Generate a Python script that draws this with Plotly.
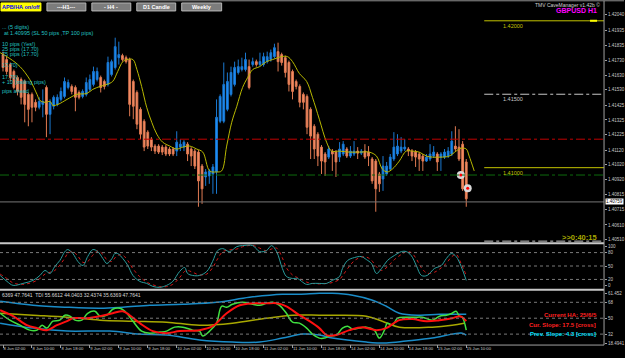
import plotly.graph_objects as go

W, H = 625, 358


def px(x):
    return x / W


def py(y):
    return 1 - y / H


# ---------------- data ----------------
bar_index = list(range(129))
ha_open = [
    1.41770, 1.41736, 1.41702, 1.41655, 1.41614, 1.41600, 1.41587, 1.41499, 1.41499, 1.41445,
    1.41411, 1.41431, 1.41546, 1.41363, 1.41418, 1.41431, 1.41465, 1.41485, 1.41546, 1.41553,
    1.41546, 1.41512, 1.41485, 1.41499, 1.41533, 1.41567, 1.41600, 1.41614, 1.41587, 1.41567,
    1.41634, 1.41682, 1.41749, 1.41763, 1.41749, 1.41736, 1.41587, 1.41512, 1.41397, 1.41316,
    1.41242, 1.41194, 1.41147, 1.41147, 1.41140, 1.41140, 1.41127, 1.41127, 1.41113, 1.41140,
    1.41140, 1.41160, 1.41127, 1.41113, 1.41106, 1.41011, 1.40937, 1.40944, 1.40957, 1.40971,
    1.41316, 1.41316, 1.41397, 1.41499, 1.41567, 1.41648, 1.41668, 1.41668, 1.41688, 1.41702,
    1.41722, 1.41702, 1.41702, 1.41722, 1.41736, 1.41756, 1.41790, 1.41770, 1.41749, 1.41716,
    1.41655, 1.41587, 1.41553, 1.41499, 1.41485, 1.41397, 1.41282, 1.41228, 1.41140, 1.41093,
    1.41072, 1.41113, 1.41106, 1.41072, 1.41093, 1.41127, 1.41079, 1.41093, 1.41113, 1.41099,
    1.41113, 1.41106, 1.41059, 1.41045, 1.40957, 1.40923, 1.40957, 1.40991, 1.41059, 1.41093,
    1.41113, 1.41127, 1.41127, 1.41113, 1.41106, 1.41093, 1.41079, 1.41045, 1.41059, 1.41079,
    1.41093, 1.41072, 1.41072, 1.41079, 1.41093, 1.41147, 1.41140, 1.41160, 1.41039]
ha_close = [
    1.41682, 1.41655, 1.41614, 1.41546, 1.41519, 1.41479, 1.41431, 1.41397, 1.41411, 1.41411,
    1.41451, 1.41451, 1.41363, 1.41445, 1.41479, 1.41479, 1.41519, 1.41587, 1.41580, 1.41519,
    1.41479, 1.41479, 1.41519, 1.41580, 1.41600, 1.41655, 1.41655, 1.41546, 1.41553, 1.41716,
    1.41722, 1.41824, 1.41770, 1.41736, 1.41722, 1.41431, 1.41418, 1.41296, 1.41228, 1.41140,
    1.41147, 1.41140, 1.41113, 1.41106, 1.41106, 1.41093, 1.41093, 1.41093, 1.41174, 1.41160,
    1.41174, 1.41093, 1.41079, 1.41011, 1.40910, 1.40856, 1.40971, 1.40978, 1.41005, 1.41343,
    1.41485, 1.41567, 1.41587, 1.41648, 1.41682, 1.41688, 1.41688, 1.41736, 1.41546, 1.41722,
    1.41702, 1.41722, 1.41756, 1.41756, 1.41783, 1.41817, 1.41722, 1.41716, 1.41648, 1.41567,
    1.41519, 1.41553, 1.41445, 1.41445, 1.41275, 1.41215, 1.41127, 1.41079, 1.41045, 1.41039,
    1.41127, 1.41093, 1.41039, 1.41127, 1.41160, 1.41079, 1.41113, 1.41113, 1.41099, 1.41113,
    1.41072, 1.41079, 1.40910, 1.40856, 1.40890, 1.41011, 1.41011, 1.41072, 1.41140, 1.41147,
    1.41140, 1.41140, 1.41113, 1.41079, 1.41072, 1.41059, 1.41045, 1.41072, 1.41093, 1.41106,
    1.41039, 1.41093, 1.41106, 1.41113, 1.41181, 1.41127, 1.41059, 1.40856, 1.40788]
ha_high = [
    1.41790, 1.41756, 1.41716, 1.41668, 1.41627, 1.41614, 1.41600, 1.41512, 1.41512, 1.41465,
    1.41479, 1.41533, 1.41560, 1.41465, 1.41492, 1.41499, 1.41546, 1.41614, 1.41600, 1.41567,
    1.41560, 1.41526, 1.41533, 1.41614, 1.41634, 1.41688, 1.41682, 1.41627, 1.41600, 1.41756,
    1.41736, 1.41885, 1.41858, 1.41776, 1.41763, 1.41749, 1.41600, 1.41526, 1.41411, 1.41330,
    1.41255, 1.41208, 1.41160, 1.41160, 1.41154, 1.41154, 1.41140, 1.41140, 1.41248, 1.41194,
    1.41187, 1.41174, 1.41140, 1.41127, 1.41120, 1.41025, 1.40991, 1.40991, 1.41025, 1.41465,
    1.41499, 1.41716, 1.41648, 1.41688, 1.41722, 1.41736, 1.41749, 1.41783, 1.41736, 1.41749,
    1.41736, 1.41783, 1.41783, 1.41790, 1.41804, 1.41844, 1.41851, 1.41783, 1.41763, 1.41729,
    1.41668, 1.41600, 1.41567, 1.41512, 1.41499, 1.41411, 1.41296, 1.41242, 1.41154, 1.41106,
    1.41147, 1.41127, 1.41120, 1.41174, 1.41181, 1.41140, 1.41147, 1.41181, 1.41140, 1.41127,
    1.41160, 1.41147, 1.41072, 1.41059, 1.40971, 1.41079, 1.41039, 1.41093, 1.41242, 1.41228,
    1.41208, 1.41194, 1.41140, 1.41127, 1.41120, 1.41106, 1.41093, 1.41093, 1.41160, 1.41147,
    1.41106, 1.41106, 1.41127, 1.41140, 1.41248, 1.41282, 1.41262, 1.41181, 1.41059]
ha_low = [
    1.41655, 1.41634, 1.41587, 1.41533, 1.41492, 1.41431, 1.41309, 1.41282, 1.41309, 1.41384,
    1.41397, 1.41343, 1.41208, 1.41228, 1.41397, 1.41418, 1.41451, 1.41472, 1.41533, 1.41499,
    1.41384, 1.41465, 1.41472, 1.41485, 1.41519, 1.41553, 1.41587, 1.41512, 1.41533, 1.41553,
    1.41621, 1.41668, 1.41702, 1.41722, 1.41709, 1.41350, 1.41330, 1.41262, 1.41194, 1.41113,
    1.41127, 1.41113, 1.41093, 1.41093, 1.41086, 1.41079, 1.41079, 1.41079, 1.41079, 1.41113,
    1.41113, 1.41045, 1.41011, 1.40991, 1.40734, 1.40754, 1.40876, 1.40890, 1.40822, 1.40822,
    1.41303, 1.41303, 1.41384, 1.41485, 1.41553, 1.41634, 1.41655, 1.41655, 1.41533, 1.41688,
    1.41688, 1.41688, 1.41688, 1.41709, 1.41722, 1.41743, 1.41655, 1.41695, 1.41614, 1.41519,
    1.41465, 1.41533, 1.41411, 1.41397, 1.41228, 1.41059, 1.41059, 1.41011, 1.40957, 1.40944,
    1.41059, 1.40978, 1.40937, 1.41039, 1.41079, 1.41066, 1.41066, 1.41079, 1.41059, 1.41086,
    1.41059, 1.41011, 1.40890, 1.40700, 1.40835, 1.40842, 1.40944, 1.40978, 1.41045, 1.41079,
    1.41099, 1.41113, 1.41079, 1.41045, 1.41005, 1.40978, 1.40978, 1.41039, 1.41045, 1.41066,
    1.40978, 1.40978, 1.41059, 1.41066, 1.41079, 1.41113, 1.41045, 1.40842, 1.40734]

ma_x = [-0.8, 1.9, 4.7, 7.4, 9.4, 10.2, 11.6, 13.0, 13.8, 15.2,
        17.7, 20.4, 23.2, 24.8, 26.8, 28.7, 30.3, 31.7, 33.1, 34.2,
        35.9, 37.0, 38.3, 39.7, 41.1, 42.5, 44.1, 46.1, 48.0, 49.7,
        51.6, 53.5, 55.2, 57.1, 59.0, 60.4, 61.8, 63.2, 64.6, 66.2,
        67.6, 69.0, 70.9, 72.8, 74.5, 77.0, 78.6, 80.0, 81.9, 83.9,
        85.5, 87.4, 89.4, 90.8, 93.0, 95.7, 98.5, 101.2, 103.2, 104.8,
        106.2, 107.6, 109.5, 111.4, 113.1, 115.0, 117.0, 118.6, 121.4, 123.3,
        125.2, 126.6, 128.0, 128.8, 130.2]
ma_val = [1.41783, 1.41743, 1.41688, 1.41600, 1.41499, 1.41458, 1.41445, 1.41451, 1.41424, 1.41431,
          1.41465, 1.41499, 1.41506, 1.41533, 1.41553, 1.41567, 1.41587, 1.41655, 1.41722, 1.41736,
          1.41736, 1.41668, 1.41553, 1.41411, 1.41309, 1.41228, 1.41174, 1.41147, 1.41127, 1.41140,
          1.41147, 1.41127, 1.41106, 1.40978, 1.40971, 1.40978, 1.41147, 1.41309, 1.41418, 1.41546,
          1.41614, 1.41668, 1.41688, 1.41722, 1.41736, 1.41756, 1.41756, 1.41722, 1.41641, 1.41587,
          1.41479, 1.41330, 1.41174, 1.41113, 1.41113, 1.41106, 1.41106, 1.41106, 1.41079, 1.40991,
          1.40971, 1.40991, 1.41045, 1.41113, 1.41113, 1.41106, 1.41079, 1.41072, 1.41072, 1.41079,
          1.41113, 1.41133, 1.41127, 1.41079, 1.40978]

stoch_x = [-0.8, 1.1, 2.8, 5.5, 8.3, 10.2, 11.6, 13.0, 14.3, 15.7,
           17.1, 17.9, 19.3, 20.7, 22.1, 23.4, 24.8, 26.2, 27.6, 28.7,
           30.1, 30.9, 31.7, 33.1, 34.5, 35.9, 37.8, 39.7, 41.4, 43.3,
           45.2, 46.9, 48.8, 50.2, 51.0, 52.4, 54.3, 56.3, 57.9, 59.3,
           60.7, 62.6, 64.6, 66.2, 69.0, 70.9, 72.8, 74.2, 75.6, 77.2,
           78.3, 80.0, 81.4, 82.5, 83.9, 85.5, 87.4, 89.4, 91.0, 93.0,
           93.8, 95.2, 97.1, 99.0, 100.4, 101.8, 103.2, 104.6, 106.2, 108.1,
           110.1, 111.4, 112.8, 114.2, 115.6, 117.2, 119.2, 121.1, 122.5, 123.9,
           125.2, 126.6, 128.0]
stoch_main = [28.9, 15.6, 6.7, 11.1, 17.8, 28.9, 40, 33.3, 48.9, 62.2,
              82.2, 86.7, 77.8, 60, 51.1, 71.1, 86.7, 82.2, 66.7, 55.6,
              66.7, 77.8, 77.8, 66.7, 51.1, 28.9, 15.6, 11.1, 4.4, 2.2,
              6.7, 15.6, 37.8, 46.7, 33.3, 28.9, 28.9, 37.8, 60, 84.4,
              88.9, 82.2, 93.3, 95.6, 95.6, 82.2, 84.4, 95.6, 82.2, 44.4,
              26.7, 22.2, 22.2, 15.6, 8.9, 11.1, 11.1, 11.1, 17.8, 26.7,
              44.4, 62.2, 68.9, 71.1, 64.4, 55.6, 33.3, 44.4, 62.2, 73.3,
              82.2, 82.2, 73.3, 51.1, 28.9, 28.9, 44.4, 51.1, 66.7, 77.8,
              71.1, 48.9, 17.8]
stoch_signal = [32, 22, 12, 9, 14, 22, 32, 36, 40, 52,
                68, 78, 82, 72, 58, 60, 74, 84, 76, 64,
                60, 68, 74, 74, 62, 44, 26, 14, 8, 4,
                4, 9, 24, 38, 40, 36, 30, 32, 46, 66,
                82, 86, 88, 93, 96, 90, 84, 88, 90, 68,
                46, 30, 24, 20, 14, 11, 10, 11, 13, 20,
                28, 44, 62, 70, 70, 63, 48, 40, 48, 64,
                76, 82, 80, 66, 46, 34, 36, 46, 56, 70,
                76, 55, 29]

tdi_up_x = [-0.8, 8.3, 17.7, 26.8, 33.1, 40.6, 49.7, 59.0, 68.1, 77.2,
            81.9, 87.4, 91.0, 96.6, 102.1, 105.9, 109.5, 115.0, 120.6, 128.0]
tdi_up = [69.1, 64.6, 62.4, 61.3, 62.4, 64.6, 65.8, 68.0, 73.6, 77.0,
          77.0, 78.1, 78.1, 75.9, 70.3, 63.5, 55.6, 53.4, 54.5, 54.5]
tdi_lo_x = [-0.8, 8.3, 17.7, 29.5, 37.8, 45.2, 54.3, 63.4, 70.9, 77.2,
            82.8, 87.4, 91.0, 100.4, 105.9, 111.4, 118.6, 124.1, 126.9, 128.0]
tdi_lo = [44.4, 38.8, 35.4, 35.4, 32.0, 30.9, 25.3, 23.0, 23.0, 27.5,
          32.0, 30.9, 27.5, 23.0, 21.9, 24.1, 27.5, 32.0, 33.1, 30.9]
tdi_mid_x = [-0.8, 8.3, 17.7, 26.8, 35.9, 45.2, 54.3, 63.4, 72.8, 80.0,
             87.4, 91.0, 100.4, 104.8, 109.5, 118.6, 124.1, 127.4]
tdi_mid = [55.6, 53.4, 51.1, 47.8, 46.6, 45.5, 42.1, 44.4, 50.0, 53.4,
           53.4, 53.4, 52.3, 46.6, 39.9, 39.9, 42.1, 44.4]
tdi_sig_x = [-0.8, 2.8, 6.6, 9.4, 12.1, 14.9, 17.7, 19.3, 23.2, 26.8,
             30.3, 33.1, 35.0, 37.8, 41.4, 45.2, 48.8, 54.3, 57.9, 61.8,
             65.4, 69.0, 72.8, 75.6, 78.3, 81.9, 84.7, 87.4, 89.4, 92.1,
             95.7, 99.3, 103.2, 105.9, 109.5, 113.1, 117.0, 120.6, 124.1, 126.1,
             126.9, 128.0]
tdi_sig = [59.0, 52.3, 42.1, 38.8, 36.5, 42.1, 46.6, 50.0, 50.0, 52.3,
           55.6, 57.9, 53.4, 44.4, 35.4, 33.1, 35.4, 36.5, 41.0, 55.6,
           64.6, 66.9, 66.9, 66.9, 63.5, 53.4, 46.6, 38.8, 30.9, 30.9,
           36.5, 39.9, 36.5, 38.8, 47.8, 49.0, 46.6, 47.8, 50.0, 52.3,
           51.1, 46.6]
tdi_rsi_x = [-0.8, 1.9, 4.7, 7.4, 9.4, 10.8, 12.1, 13.8, 15.7, 17.1,
             18.5, 19.9, 21.8, 23.4, 25.4, 26.8, 28.7, 30.3, 32.3, 33.7,
             35.9, 38.3, 40.6, 43.3, 45.2, 47.4, 49.7, 52.4, 54.3, 55.2,
             57.1, 59.0, 60.4, 61.8, 63.4, 66.2, 69.0, 70.9, 72.8, 74.5,
             76.4, 78.3, 80.0, 81.9, 83.9, 85.5, 87.4, 88.8, 90.2, 92.1,
             93.8, 95.2, 96.6, 98.5, 100.4, 102.6, 104.0, 105.4, 106.2, 107.6,
             109.0, 111.4, 113.7, 115.9, 118.6, 120.6, 122.5, 124.1, 125.2, 126.1,
             126.9, 128.0]
tdi_rsi = [55.6, 47.8, 42.1, 36.5, 36.5, 42.1, 38.8, 46.6, 47.8, 53.4,
           52.3, 47.8, 47.8, 55.6, 57.9, 52.3, 53.4, 60.1, 61.3, 57.9,
           46.6, 35.4, 33.1, 34.3, 35.4, 39.9, 39.9, 36.5, 35.4, 29.8,
           35.4, 44.4, 63.5, 62.4, 65.8, 68.0, 65.8, 64.6, 66.9, 68.0,
           64.6, 55.6, 45.5, 44.4, 38.8, 32.0, 27.5, 27.5, 29.8, 30.9,
           38.8, 41.0, 37.6, 38.8, 39.9, 36.5, 27.5, 36.5, 44.4, 42.1,
           50.0, 51.1, 51.1, 51.1, 47.8, 52.3, 53.4, 55.6, 57.9, 52.3,
           51.1, 36.5]

date_ticks = [0, 8, 16, 24, 32, 40, 48, 56, 64, 72, 80, 88, 96, 104, 112, 120, 128]
date_labels = ["8 Jun 02:00", "8 Jun 10:00", "8 Jun 18:00", "9 Jun 02:00", "9 Jun 10:00",
               "9 Jun 18:00", "10 Jun 02:00", "10 Jun 10:00", "10 Jun 18:00", "11 Jun 02:00",
               "11 Jun 10:00", "11 Jun 18:00", "14 Jun 02:00", "14 Jun 10:00", "14 Jun 18:00",
               "15 Jun 02:00", "15 Jun 10:00"]
price_ticks = [1.42040, 1.41935, 1.41835, 1.41730, 1.41630, 1.41530, 1.41425, 1.41325,
               1.41225, 1.41120, 1.41020, 1.40920, 1.40815, 1.40715, 1.40610, 1.40510]
stoch_ticks = [93, 80, 50, 20, 7]
stoch_tick_text = ["100", "80", "50", "20", "0"]
stoch_levels = [80, 50, 20]
tdi_ticks = [78.2, 68, 50, 32, 21.8]
tdi_tick_text = ["61.452", "68", "50", "32", "18.4941"]
tdi_levels = [68, 50, 32]

red_level = 1.41194
green_level = 1.40950
current_price = 1.40767
current_label = "1.40759"
target_levels = [1.42000, 1.41500, 1.41000, 1.40500]
target_styles = [("#c4c400", "solid"), ("#c8c8c8", "dashdot"), ("#c4c400", "solid"), ("#c8c8c8", "dashdot")]
target_labels = ["1.42000", "1.41500", "1.41000", None]
trade_x = [126.5, 128.4]
trade_y = [1.40950, 1.40860]

FONT = "Liberation Sans"
XR = [-0.83, 166.07]
XEND = 605 / W

fig = go.Figure()

# ---------------- main price panel ----------------
fig.add_trace(go.Candlestick(
    x=bar_index, open=ha_open, high=ha_high, low=ha_low, close=ha_close,
    increasing=dict(line=dict(color="#1a78d0", width=1), fillcolor="#1e90ff"),
    decreasing=dict(line=dict(color="#e07a52", width=1), fillcolor="#f7906a"),
    whiskerwidth=0, xaxis="x", yaxis="y", hoverinfo="skip", showlegend=False))
fig.add_trace(go.Scatter(x=ma_x, y=ma_val, mode="lines", xaxis="x", yaxis="y",
                         line=dict(color="#b8b800", width=1, shape="spline"), hoverinfo="skip"))
fig.add_trace(go.Scatter(x=trade_x, y=trade_y, mode="markers", xaxis="x", yaxis="y",
                         marker=dict(size=8, color="#d8d8d8", line=dict(width=0)), hoverinfo="skip"))
fig.add_trace(go.Scatter(x=trade_x, y=trade_y, mode="markers", xaxis="x", yaxis="y",
                         marker=dict(size=3, color="#ff0000"), hoverinfo="skip"))

# ---------------- stochastic panel ----------------
fig.add_trace(go.Scatter(x=stoch_x, y=stoch_signal, mode="lines", xaxis="x", yaxis="y2",
                         line=dict(color="#d01818", width=1, dash="dot", shape="spline"), hoverinfo="skip"))
fig.add_trace(go.Scatter(x=stoch_x, y=stoch_main, mode="lines", xaxis="x", yaxis="y2",
                         line=dict(color="#2a9c9c", width=1, shape="spline"), hoverinfo="skip"))

# ---------------- TDI panel ----------------
for xs, ys, col, wd in [(tdi_up_x, tdi_up, "#1a8cc8", 1.5), (tdi_lo_x, tdi_lo, "#1a8cc8", 1.5),
                        (tdi_mid_x, tdi_mid, "#a8a800", 1.5), (tdi_rsi_x, tdi_rsi, "#40e040", 1.5),
                        (tdi_sig_x, tdi_sig, "#ff1010", 2)]:
    fig.add_trace(go.Scatter(x=xs, y=ys, mode="lines", xaxis="x", yaxis="y3",
                             line=dict(color=col, width=wd, shape="spline"), hoverinfo="skip"))

shapes = []
# level lines main panel
shapes.append(dict(type="line", xref="paper", yref="y", x0=0, x1=XEND, y0=red_level, y1=red_level,
                   line=dict(color="#c00000", width=1, dash="dashdot")))
shapes.append(dict(type="line", xref="paper", yref="y", x0=0, x1=XEND, y0=green_level, y1=green_level,
                   line=dict(color="#0d6a0d", width=1, dash="dashdot")))
shapes.append(dict(type="line", xref="paper", yref="y", x0=0, x1=XEND, y0=current_price, y1=current_price,
                   line=dict(color="#767676", width=1)))
for lv, (col, dsh) in zip(target_levels, target_styles):
    shapes.append(dict(type="line", xref="paper", yref="y", x0=px(485), x1=XEND, y0=lv, y1=lv,
                       line=dict(color=col, width=1, dash=dsh)))
shapes.append(dict(type="line", xref="paper", yref="y", x0=px(591), x1=px(598), y0=target_levels[0],
                   y1=target_levels[0], line=dict(color="#ffff00", width=2)))
# sub-panel levels
for lv in stoch_levels:
    shapes.append(dict(type="line", xref="paper", yref="y2", x0=0, x1=XEND, y0=lv, y1=lv,
                       line=dict(color="#7a7a7a", width=1, dash="dot")))
for lv in tdi_levels:
    shapes.append(dict(type="line", xref="paper", yref="y3", x0=0, x1=XEND, y0=lv, y1=lv,
                       line=dict(color="#7a7a7a", width=1, dash="dot")))
# frame lines
shapes.append(dict(type="line", xref="paper", yref="paper", x0=0, x1=1, y0=py(0.8), y1=py(0.8),
                   line=dict(color="#909090", width=1)))
shapes.append(dict(type="line", xref="paper", yref="paper", x0=0, x1=XEND, y0=py(244.5), y1=py(244.5),
                   line=dict(color="#c8c8c8", width=2)))
shapes.append(dict(type="line", xref="paper", yref="paper", x0=0, x1=XEND, y0=py(291.5), y1=py(291.5),
                   line=dict(color="#c8c8c8", width=2)))
shapes.append(dict(type="line", xref="paper", yref="paper", x0=0, x1=XEND, y0=py(347), y1=py(347),
                   line=dict(color="#a0a0a0", width=1)))
shapes.append(dict(type="line", xref="paper", yref="paper", x0=XEND, x1=XEND, y0=py(347), y1=py(0.8),
                   line=dict(color="#a0a0a0", width=1)))

# buttons
buttons = [("APB/HA on/off", 1, 41, "#ffff00", "#0000ff"), ("---H1---", 47, 86, "#7c7c7c", "#ffffff"),
           ("- H4 -", 92, 131, "#7c7c7c", "#ffffff"), ("D1 Candle", 137, 176, "#7c7c7c", "#ffffff"),
           ("Weekly", 182, 222, "#7c7c7c", "#ffffff")]
annotations = []
for txt, x0, x1, bg, fg in buttons:
    shapes.append(dict(type="rect", xref="paper", yref="paper", x0=px(x0), x1=px(x1), y0=py(11), y1=py(3),
                       fillcolor=bg, line=dict(color="#b8b8b8" if bg != "#ffff00" else bg, width=1)))
    annotations.append(dict(x=px((x0 + x1) / 2), y=py(7), xref="paper", yref="paper", text="<b>%s</b>" % txt,
                            showarrow=False, font=dict(family=FONT, size=5.5, color=fg),
                            xanchor="center", yanchor="middle"))


def note(x, y, text, color, size=5.5, xa="left", bold=False, ya="middle"):
    annotations.append(dict(x=px(x), y=py(y), xref="paper", yref="paper",
                            text=("<b>%s</b>" % text) if bold else text, showarrow=False,
                            font=dict(family=FONT, size=size, color=color), xanchor=xa, yanchor=ya))


note(603, 5, "TMV CaveManager v1.42b ©", "#d0d0d0", 5, "right")
note(600, 11, "GBPUSD H1", "#ff00ff", 7, "right", True)
cyan = "#22c0c0"
note(0, 27, "... (5 digits)", cyan)
note(2, 33, "at 1.40995 (SL 50 pips ,TP 100 pips)", cyan)
note(0, 44, "10 pips (Yes!)", cyan)
note(0, 49, "25 pips (17.70)", cyan)
note(0, 54, "75 pips (17.70)", cyan)
note(0, 65, "17.70)", cyan)
note(0, 77, "17.70)", cyan)
note(0, 82, "+ 10 (trailing pips)", cyan)
note(0, 92, "pips ahead", cyan)
note(600, 239, "&gt;&gt;0:40:15", "#a8a800", 7.5, "right", True)
note(0, 296.5, "6369 47.7641  TDI 55.6612 44.0403 32.4374 35.6369 47.7641", "#d8d8d8", 5)
note(600, 317, "Current HA: 25/6/5", "#ff2020", 6, "right", True)
note(599, 327, "Cur. Slope: 17.5 [cross]", "#ff2020", 6, "right", True)
note(599, 336, "Prev. Slope: 4.3 [cross]", "#00e0ff", 6, "right", True)

for lv, lab, (col, _) in zip(target_levels, target_labels, target_styles):
    if lab:
        annotations.append(dict(x=px(502), y=lv, xref="paper", yref="y", text=lab, showarrow=False,
                                font=dict(family=FONT, size=5.5, color=col), xanchor="left", yanchor="top"))
annotations.append(dict(x=px(606), y=current_price, xref="paper", yref="y", text=current_label,
                        showarrow=False, bgcolor="#ffffff", borderpad=0,
                        font=dict(family=FONT, size=4.5, color="#000000"), xanchor="left", yanchor="middle"))

axis_font = dict(family=FONT, size=4.5, color="#c8c8c8")
date_font = dict(family=FONT, size=4.2, color="#c8c8c8")
common_y = dict(side="right", anchor="x", showgrid=False, zeroline=False, showline=False,
                ticks="outside", ticklen=2, tickcolor="#a0a0a0", tickfont=axis_font, fixedrange=True)

fig.update_layout(
    width=W, height=H, margin=dict(l=0, r=0, t=0, b=0),
    paper_bgcolor="#000000", plot_bgcolor="#000000", showlegend=False,
    xaxis=dict(domain=[0, XEND], range=XR, anchor="y3", tickvals=date_ticks, ticktext=date_labels,
               tickfont=date_font, ticks="outside", ticklen=3, tickcolor="#a0a0a0", tickangle=0,
               ticklabelposition="outside right", showgrid=False, zeroline=False, showline=False,
               rangeslider=dict(visible=False), fixedrange=True),
    yaxis=dict(domain=[py(244), py(4)], range=[1.404897, 1.421145], tickvals=price_ticks,
               ticktext=["%.5f" % v for v in price_ticks], **common_y),
    yaxis2=dict(domain=[py(290), py(245)], range=[0, 100], tickvals=stoch_ticks,
                ticktext=stoch_tick_text, **common_y),
    yaxis3=dict(domain=[py(346), py(293)], range=[20.75, 80.375], tickvals=tdi_ticks,
                ticktext=tdi_tick_text, **common_y),
    shapes=shapes, annotations=annotations,
)

fig.write_html("out.html")
